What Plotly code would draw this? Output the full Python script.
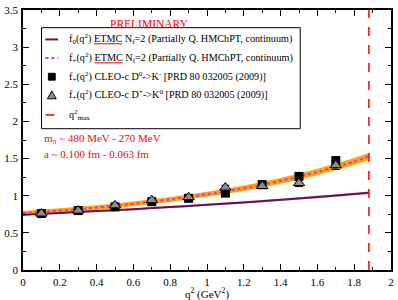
import plotly.graph_objects as go

# ---- data ----
q2_curve = [0.0, 0.2, 0.4, 0.6, 0.8, 1.0, 1.2, 1.4, 1.6, 1.8, 1.88]
f0_center = [0.745, 0.768, 0.793, 0.819, 0.847, 0.878, 0.910, 0.945, 0.982, 1.023, 1.040]
f0_err = [0.012, 0.012, 0.013, 0.013, 0.014, 0.014, 0.015, 0.015, 0.016, 0.017, 0.017]
fp_center = [0.765, 0.800, 0.840, 0.890, 0.950, 1.020, 1.100, 1.200, 1.320, 1.460, 1.530]
fp_err = [0.030, 0.030, 0.031, 0.032, 0.033, 0.035, 0.037, 0.040, 0.044, 0.048, 0.050]

q2_data = [0.1, 0.3, 0.5, 0.7, 0.9, 1.1, 1.3, 1.5, 1.7]
cleo_d0 = [0.76, 0.80, 0.85, 0.92, 0.965, 1.035, 1.15, 1.26, 1.47]
cleo_d0_err = [0.015, 0.015, 0.015, 0.02, 0.02, 0.025, 0.03, 0.04, 0.055]
cleo_dp = [0.76, 0.80, 0.87, 0.94, 0.98, 1.11, 1.13, 1.17, 1.41]
cleo_dp_err = [0.015, 0.015, 0.02, 0.02, 0.025, 0.03, 0.035, 0.045, 0.055]

q2max = 1.88
y_range = [0.0, 3.5]

x_ticks = [0, 0.2, 0.4, 0.6, 0.8, 1, 1.2, 1.4, 1.6, 1.8, 2]
y_ticks = [0, 0.5, 1, 1.5, 2, 2.5, 3, 3.5]

FONT = "Liberation Serif"
ETMC = '<span style="fill:red;text-decoration:underline"><span style="fill:black">ETMC</span></span>'

legend_labels = [
    "f<sub>0</sub>(q<sup>2</sup>) " + ETMC + " N<sub>f</sub>=2 (Partially Q. HMChPT, continuum)",
    "f<sub>+</sub>(q<sup>2</sup>) " + ETMC + " N<sub>f</sub>=2 (Partially Q. HMChPT, continuum)",
    "f<sub>+</sub>(q<sup>2</sup>) CLEO-c D<sup>0</sup>->K<sup>-</sup> [PRD 80 032005 (2009)]",
    "f<sub>+</sub>(q<sup>2</sup>) CLEO-c D<sup>+</sup>->K<sup>0</sup> [PRD 80 032005 (2009)]",
    "q<sup>2</sup><sub>max</sub>",
]

C_F0 = "#6A1050"
C_FP = "#CC33FF"
C_TRI = "#8C8C8C"

# figure geometry (pixels)
W, H = 398, 300
ML, MR, MT, MB = 17, 4, 5, 30
PW, PH = W - ML - MR, H - MT - MB


def PX(px):
    return (px - ML) / PW


def PY(py):
    return (H - MB - py) / PH


fig = go.Figure()

# f0 band
fig.add_trace(go.Scatter(x=q2_curve, y=[c + e for c, e in zip(f0_center, f0_err)],
                         mode="lines", line=dict(width=0, shape="spline"),
                         showlegend=False, hoverinfo="skip"))
fig.add_trace(go.Scatter(x=q2_curve, y=[c - e for c, e in zip(f0_center, f0_err)],
                         mode="lines", line=dict(width=0, shape="spline"),
                         fill="tonexty", fillcolor="rgba(190,140,150,0.8)",
                         showlegend=False, hoverinfo="skip"))
# f+ band
fig.add_trace(go.Scatter(x=q2_curve, y=[c + e for c, e in zip(fp_center, fp_err)],
                         mode="lines", line=dict(width=0, shape="spline"),
                         showlegend=False, hoverinfo="skip"))
fig.add_trace(go.Scatter(x=q2_curve, y=[c - e for c, e in zip(fp_center, fp_err)],
                         mode="lines", line=dict(width=0, shape="spline"),
                         fill="tonexty", fillcolor="#FFA500",
                         showlegend=False, hoverinfo="skip"))

fig.add_trace(go.Scatter(x=q2_curve, y=f0_center, mode="lines",
                         line=dict(color=C_F0, width=2, shape="spline"),
                         showlegend=False, name="f0"))
fig.add_trace(go.Scatter(x=q2_curve, y=fp_center, mode="lines",
                         line=dict(color=C_FP, width=2, dash="dot", shape="spline"),
                         showlegend=False, name="f+"))

fig.add_trace(go.Scatter(x=q2_data, y=cleo_d0, mode="markers",
                         marker=dict(symbol="square", size=9, color="black"),
                         error_y=dict(type="data", array=cleo_d0_err, color="black", thickness=1, width=4),
                         showlegend=False, name="CLEO D0"))
fig.add_trace(go.Scatter(x=q2_data, y=cleo_dp, mode="markers",
                         marker=dict(symbol="triangle-up", size=10, color=C_TRI,
                                     line=dict(color="black", width=1)),
                         error_y=dict(type="data", array=cleo_dp_err, color="black", thickness=1, width=4),
                         showlegend=False, name="CLEO D+"))

fig.add_trace(go.Scatter(x=[q2max, q2max], y=y_range, mode="lines",
                         line=dict(color="red", width=1.5, dash="dash"),
                         showlegend=False, name="q2max"))

axis_common = dict(showline=True, linecolor="black", linewidth=1.5, mirror="ticks",
                   ticks="inside", ticklen=6, tickcolor="black", showgrid=False,
                   zeroline=False, ticklabeloverflow="allow",
                   tickfont=dict(family=FONT, size=11, color="black"))

fig.update_xaxes(range=[0, 2], tickvals=x_ticks, ticktext=[f"{v:g}" for v in x_ticks],
                 minor=dict(ticks="inside", dtick=0.1, ticklen=3, tickcolor="black"),
                 ticklabelstandoff=1,
                 **axis_common)
fig.update_yaxes(range=y_range, tickvals=y_ticks, ticktext=[f"{v:g}" for v in y_ticks],
                 minor=dict(ticks="inside", dtick=0.25, ticklen=3, tickcolor="black"),
                 ticklabelstandoff=1,
                 **axis_common)

# ---- hand-drawn legend box (matches the reference layout) ----
shapes = [dict(type="rect", xref="paper", yref="paper",
               x0=PX(36), x1=PX(301), y0=PY(126), y1=PY(23),
               line=dict(color="black", width=1), fillcolor="white", layer="above")]
row_y = [35, 54, 73, 92, 112]
sx0, sx1 = 40, 53
shapes.append(dict(type="line", xref="paper", yref="paper", x0=PX(sx0), x1=PX(sx1),
                   y0=PY(row_y[0]), y1=PY(row_y[0]), line=dict(color=C_F0, width=2), layer="above"))
shapes.append(dict(type="line", xref="paper", yref="paper", x0=PX(sx0), x1=PX(sx1),
                   y0=PY(row_y[1]), y1=PY(row_y[1]), line=dict(color=C_FP, width=2, dash="dot"), layer="above"))
cx = (sx0 + sx1) / 2
shapes.append(dict(type="rect", xref="paper", yref="paper", x0=PX(cx - 3.5), x1=PX(cx + 3.5),
                   y0=PY(row_y[2] + 3.5), y1=PY(row_y[2] - 3.5),
                   line=dict(color="black", width=1), fillcolor="black", layer="above"))
ty = row_y[3]
shapes.append(dict(type="path", xref="paper", yref="paper",
                   path=f"M {PX(cx - 4.5)},{PY(ty + 3.5)} L {PX(cx + 4.5)},{PY(ty + 3.5)} L {PX(cx)},{PY(ty - 4.5)} Z",
                   line=dict(color="black", width=1), fillcolor=C_TRI, layer="above"))
shapes.append(dict(type="line", xref="paper", yref="paper", x0=PX(sx0), x1=PX(sx1),
                   y0=PY(row_y[4]), y1=PY(row_y[4]), line=dict(color="red", width=1.5, dash="dash"), layer="above"))

for lab, ry in zip(legend_labels, row_y):
    fig.add_annotation(text=lab, x=PX(62), y=PY(ry), xref="paper", yref="paper",
                       xanchor="left", yanchor="middle", showarrow=False,
                       font=dict(family=FONT, size=10.2, color="black"))

# axis title as annotation placed just under the tick labels
fig.add_annotation(text="q<sup>2</sup> (GeV<sup>2</sup>)", x=0.5, y=0, xref="paper", yref="paper",
                   xanchor="center", yanchor="middle", yshift=-23, showarrow=False,
                   font=dict(family=FONT, size=11, color="black"))

fig.add_annotation(text="PRELIMINARY", x=PX(147), y=PY(19), xref="paper", yref="paper",
                   xanchor="center", yanchor="middle", showarrow=False,
                   font=dict(family=FONT, size=11.5, color="red"))
fig.add_annotation(text="m<sub>π</sub> ~ 480 MeV - 270 MeV", x=PX(36), y=PY(136), xref="paper", yref="paper",
                   xanchor="left", yanchor="middle", showarrow=False,
                   font=dict(family=FONT, size=11, color="red"))
fig.add_annotation(text="a ~ 0.100 fm - 0.063 fm", x=PX(36), y=PY(152), xref="paper", yref="paper",
                   xanchor="left", yanchor="middle", showarrow=False,
                   font=dict(family=FONT, size=11, color="red"))

fig.update_layout(
    width=W, height=H,
    margin=dict(l=ML, r=MR, t=MT, b=MB),
    paper_bgcolor="white", plot_bgcolor="white",
    font=dict(family=FONT, size=10.5, color="black"),
    showlegend=False,
    shapes=shapes,
)

# remove the browser's default 8px body margin so the figure sits at the page origin
fig.write_html("out.html", config={"displayModeBar": False},
               post_script="document.body.style.margin='0';document.body.style.overflow='hidden';")
